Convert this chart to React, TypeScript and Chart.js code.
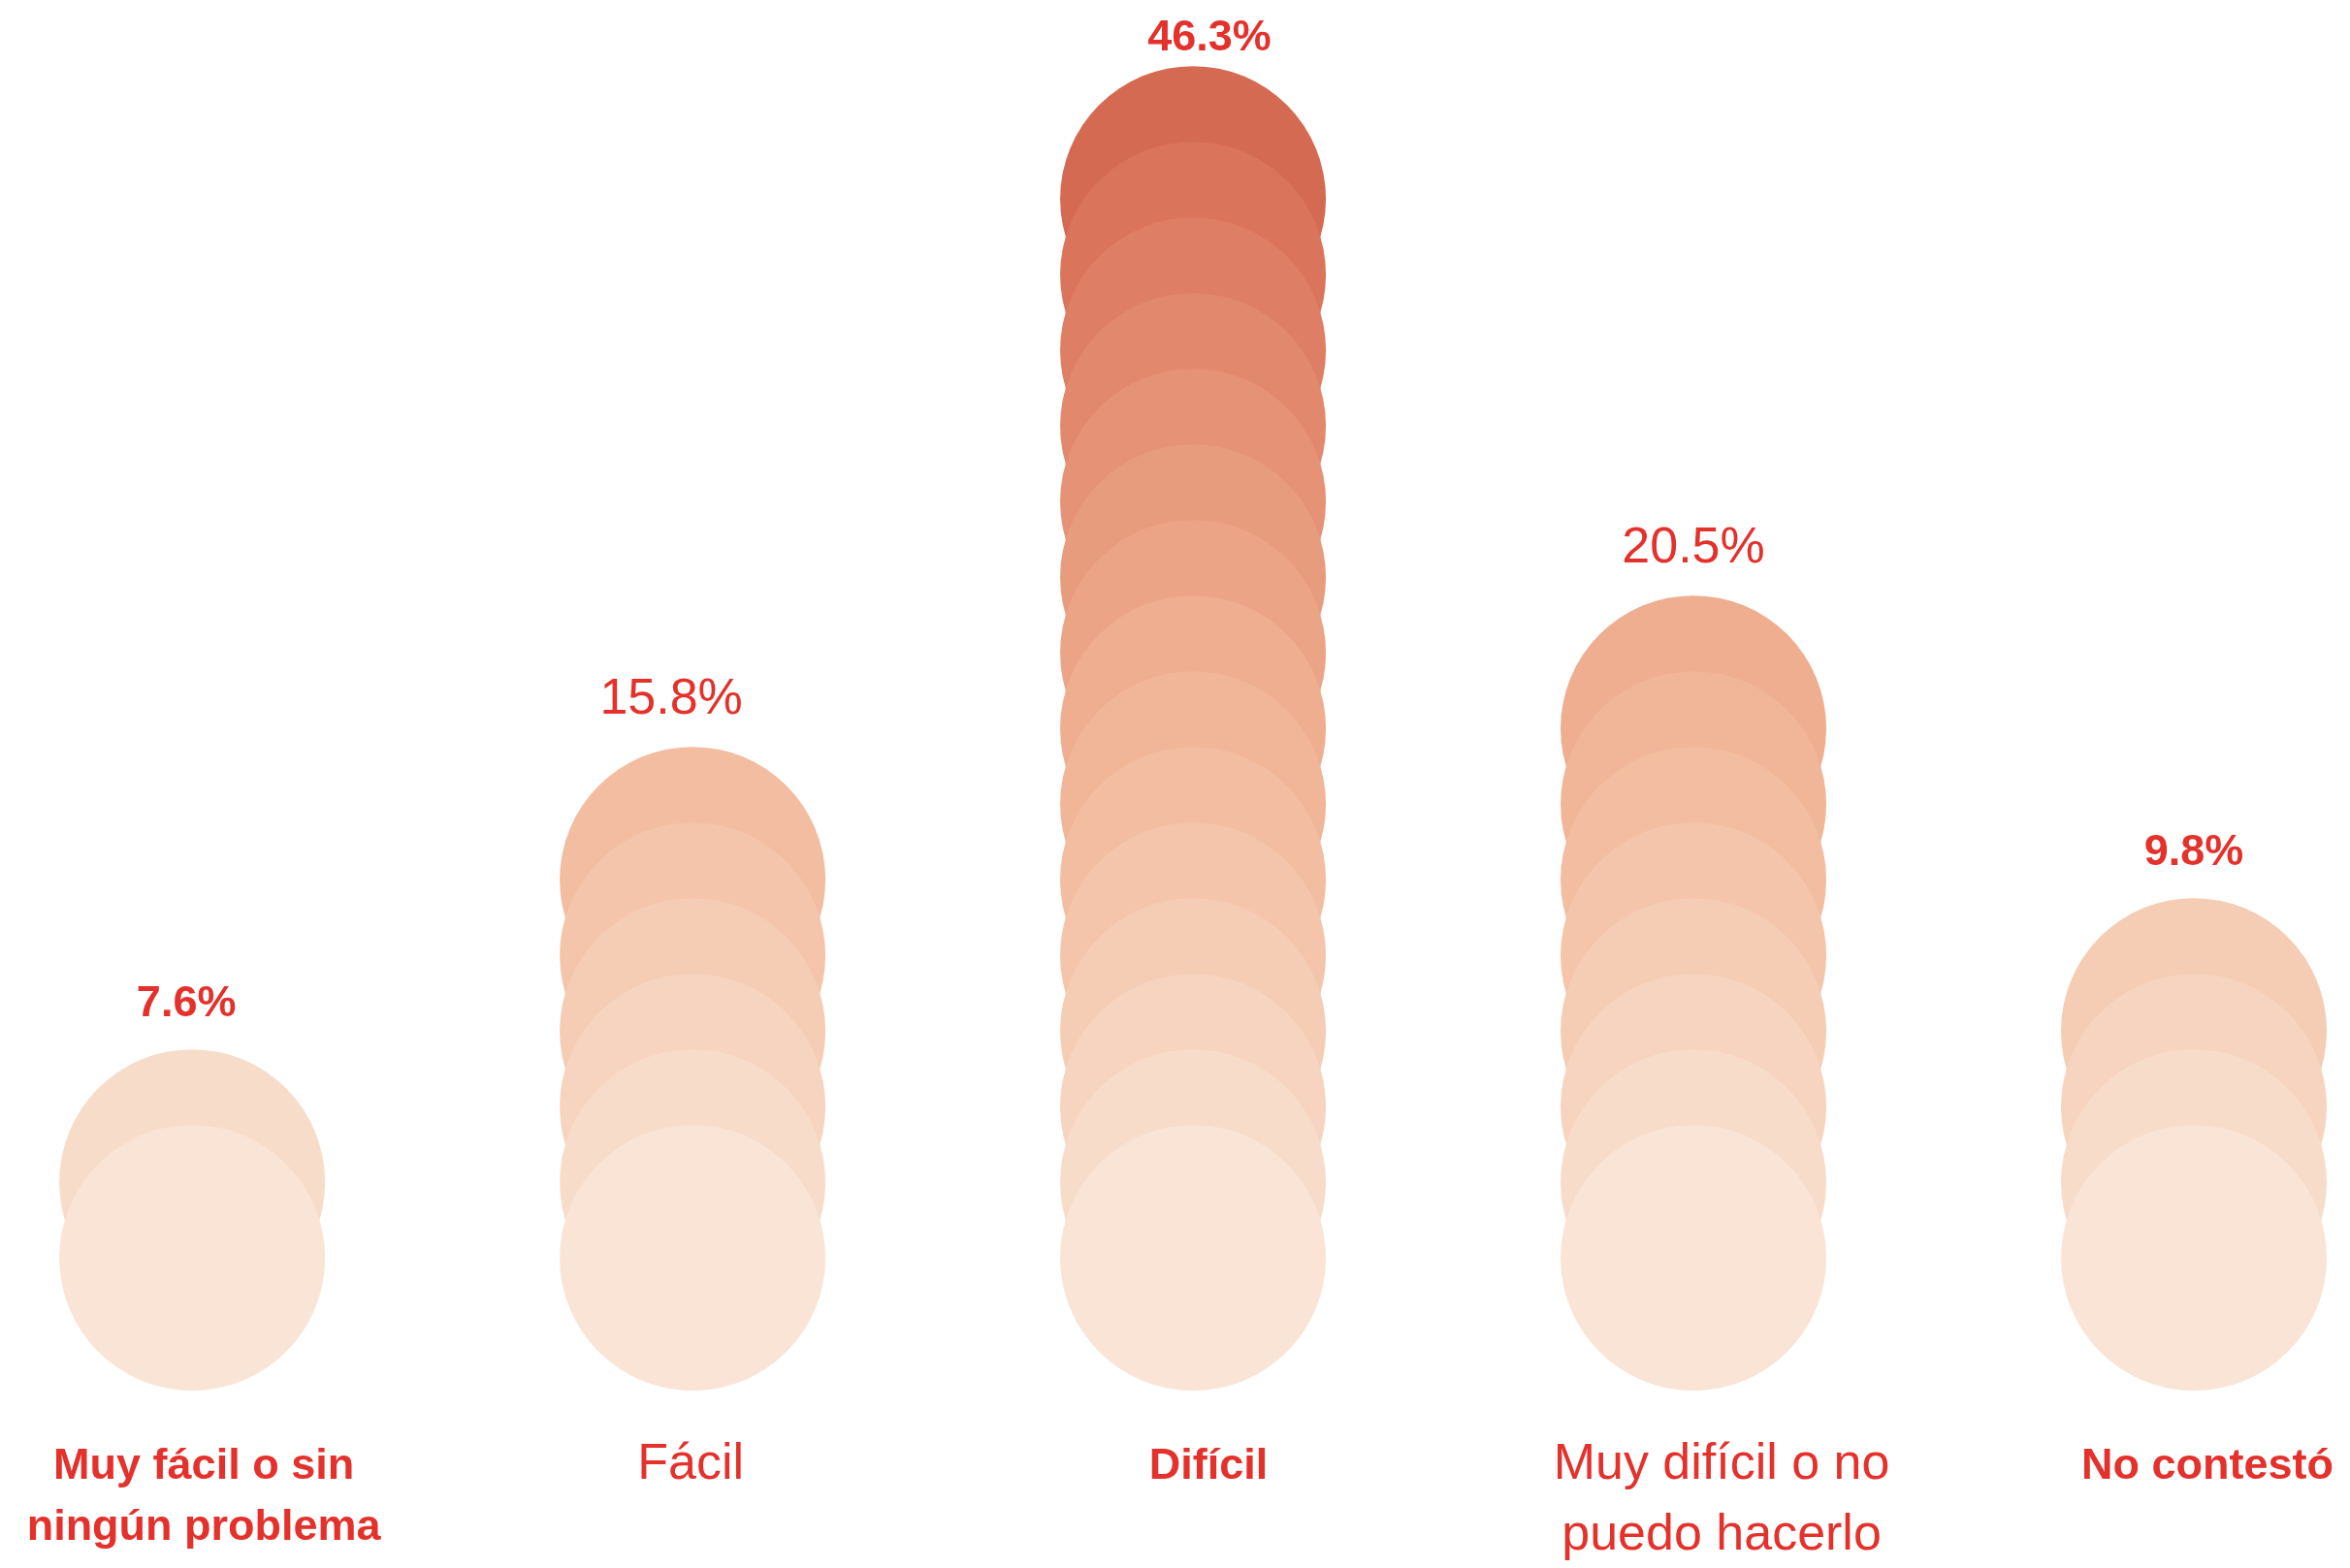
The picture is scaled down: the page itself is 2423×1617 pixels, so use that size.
import React, { useEffect, useRef } from 'react';
import { Chart, registerables } from 'chart.js';

Chart.register(...registerables);

// ---- Data ----
const categories: string[][] = [
  ['Muy fácil o sin', 'ningún problema'],
  ['Fácil'],
  ['Difícil'],
  ['Muy difícil o no', 'puedo hacerlo'],
  ['No contestó'],
];
const percentages = [7.6, 15.8, 46.3, 20.5, 9.8];
const circleCounts = [2, 6, 15, 8, 4];
const emphasized = [true, false, true, false, true];
// colour of each stacked circle, from the bottom level upward
const levelColors = [
  '#F9E4D6', '#F8DCCA', '#F7D4BF', '#F5CCB4', '#F4C5AA',
  '#F2BDA0', '#F0B697', '#EEAE8F', '#EBA586', '#E89C7E',
  '#E59276', '#E2886D', '#DE7E64', '#DA745B', '#D56A52',
];

const W = 2423;
const H = 1617;
const RADIUS = 137;
const TEXT_COLOR = '#E4312B';
const FONT = '"Liberation Sans", Arial, Helvetica, sans-serif';
// small horizontal nudges of the texts (layout only, px)
const PCT_NUDGE = [-6, -22, 17, 0, 0];
const CAT_NUDGE = [12, -2, 16, 29, 14];

const labelPlugin = {
  id: 'pictoLabels',
  afterDatasetsDraw(chart: any) {
    const { ctx, scales } = chart;
    const xs = scales.x;
    const ys = scales.y;
    ctx.save();
    ctx.fillStyle = TEXT_COLOR;
    ctx.textAlign = 'center';
    ctx.textBaseline = 'alphabetic';
    const baseY = ys.getPixelForValue(0);
    categories.forEach((lines, i) => {
      const px = xs.getPixelForValue(i);
      const bold = emphasized[i];
      const size = bold ? 45 : 52;
      ctx.font = `${bold ? 'bold ' : ''}${size}px ${FONT}`;
      const top = ys.getPixelForValue(circleCounts[i] - 1) - RADIUS;
      ctx.fillText(`${percentages[i].toFixed(1)}%`, px + PCT_NUDGE[i], Math.max(top - 34, 52));
      const first = baseY + RADIUS + 91;
      lines.forEach((ln, k) => {
        ctx.fillText(ln, px + CAT_NUDGE[i], first + k * size * 1.4);
      });
    });
    ctx.restore();
  },
};

export default function App() {
  const ref = useRef<HTMLCanvasElement | null>(null);
  useEffect(() => {
    document.body.style.margin = '0';
    const canvas = ref.current;
    if (!canvas) return;
    const maxLevel = Math.max(...circleCounts);
    const datasets = [] as any[];
    for (let l = 0; l < maxLevel; l++) {
      const pts = categories
        .map((_, i) => i)
        .filter((i) => circleCounts[i] > l)
        .map((i) => ({ x: i, y: l }));
      datasets.push({
        label: `nivel ${l + 1}`,
        data: pts,
        backgroundColor: levelColors[l],
        borderWidth: 0,
        pointRadius: RADIUS,
        pointHoverRadius: RADIUS,
        clip: false,
      });
    }
    const chart = new Chart(canvas, {
      type: 'scatter',
      data: { datasets },
      options: {
        animation: false,
        responsive: false,
        devicePixelRatio: 1,
        layout: { padding: 0, autoPadding: false },
        events: [],
        plugins: { legend: { display: false }, tooltip: { enabled: false } },
        scales: {
          x: { type: 'linear', min: -0.384, max: 4.312, display: false },
          y: { type: 'linear', min: -4.1, max: 16.63, display: false },
        },
      },
      plugins: [labelPlugin],
    });
    return () => chart.destroy();
  }, []);
  return (
    <div style={{ width: W, height: H, background: '#fff', overflow: 'hidden' }}>
      <canvas ref={ref} width={W} height={H} style={{ display: 'block', width: W, height: H }} />
    </div>
  );
}
